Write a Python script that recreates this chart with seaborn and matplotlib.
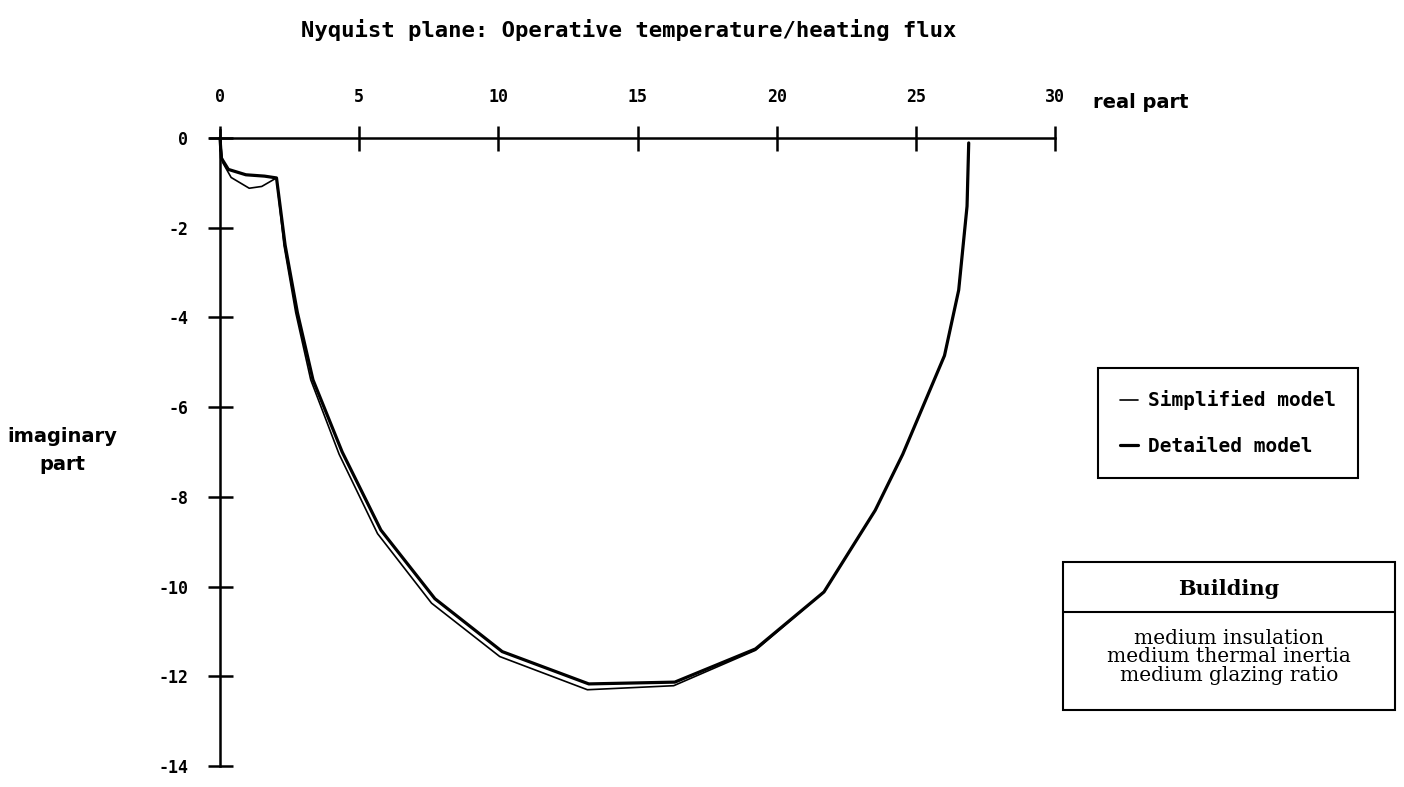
import matplotlib
matplotlib.use("Agg")
import matplotlib.pyplot as plt
from matplotlib.lines import Line2D
from matplotlib.patches import Rectangle
import seaborn as sns
import pandas as pd

# Frequency response of the operative temperature / heating flux transfer
detailed_real = [0.0, 0.05, 0.3, 0.93, 1.6, 2.03, 2.34, 2.78, 3.34, 4.39, 5.78, 7.72,
                 10.14, 13.25, 16.34, 19.24, 21.7, 23.54, 24.53, 25.28, 26.03, 26.54,
                 26.84, 26.9]
detailed_imag = [0.0, -0.45, -0.7, -0.82, -0.85, -0.89, -2.39, -3.89, -5.39, -7.0, -8.74,
                 -10.27, -11.45, -12.17, -12.13, -11.39, -10.12, -8.3, -7.05, -5.95,
                 -4.85, -3.39, -1.52, -0.11]

simplified_real = [0.0, 0.1, 0.4, 1.05, 1.5, 2.03, 2.3, 2.72, 3.26, 4.28, 5.66, 7.6,
                   10.05, 13.2, 16.3, 19.24, 21.7, 23.54, 24.53, 25.28, 26.03, 26.54,
                   26.84, 26.9]
simplified_imag = [0.0, -0.55, -0.88, -1.12, -1.08, -0.89, -2.39, -3.89, -5.39, -7.05,
                   -8.82, -10.37, -11.56, -12.3, -12.21, -11.42, -10.12, -8.3, -7.05,
                   -5.95, -4.85, -3.39, -1.52, -0.11]

x_ticks = [0, 5, 10, 15, 20, 25, 30]
y_ticks = [0, -2, -4, -6, -8, -10, -12, -14]

title_text = "Nyquist plane: Operative temperature/heating flux"
legend_labels = ["Simplified model", "Detailed model"]
box_header = "Building"
box_lines = ["medium insulation", "medium thermal inertia", "medium glazing ratio"]

sns.set_theme(style="white")
plt.rcParams["font.family"] = ["DejaVu Sans Mono", "DejaVu Sans"]
plt.rcParams["text.color"] = "black"

fig = plt.figure(figsize=(14.04, 7.87), dpi=100)
fig.patch.set_facecolor("white")

# axes placed so the origin sits at the upper-left corner of the plotting area
W, H = 1404, 787
x0_px, x30_px = 220, 1055
y0_px, y14_px = 138, 766
px_per_x = (x30_px - x0_px) / 30.0
px_per_y = (y14_px - y0_px) / 14.0
xmin, xmax = -10 / px_per_x, 30.0
ymin, ymax = -14.0, 8 / px_per_y
left = (x0_px + xmin * px_per_x) / W
right = x30_px / W
top = 1 - (y0_px - ymax * px_per_y) / H
bottom = 1 - y14_px / H
ax = fig.add_axes([left, bottom, right - left, top - bottom])
ax.set_facecolor("white")

df_s = pd.DataFrame({"re": simplified_real, "im": simplified_imag})
df_d = pd.DataFrame({"re": detailed_real, "im": detailed_imag})
sns.lineplot(data=df_s, x="re", y="im", sort=False, estimator=None, ax=ax,
             color="black", linewidth=1.2, clip_on=False)
sns.lineplot(data=df_d, x="re", y="im", sort=False, estimator=None, ax=ax,
             color="black", linewidth=2.3, clip_on=False)

ax.set_xlim(xmin, xmax)
ax.set_ylim(ymin, ymax)

for side in ["right", "bottom"]:
    ax.spines[side].set_visible(False)
ax.spines["left"].set_position(("data", 0))
ax.spines["top"].set_position(("data", 0))
for side in ["left", "top"]:
    ax.spines[side].set_linewidth(1.8)
    ax.spines[side].set_color("black")

ax.xaxis.set_ticks_position("top")
ax.yaxis.set_ticks_position("left")
ax.set_xticks(x_ticks)
ax.set_xticklabels([str(v) for v in x_ticks])
ax.set_yticks(y_ticks)
ax.set_yticklabels([str(v) for v in y_ticks])
ax.tick_params(axis="x", which="major", top=True, bottom=False, labeltop=True,
               labelbottom=False, direction="inout", length=18, width=1.8, pad=14,
               labelsize=12, colors="black")
ax.tick_params(axis="y", which="major", left=True, right=False, direction="inout",
               length=18, width=1.8, pad=14, labelsize=12, colors="black")
for lab in ax.get_xticklabels() + ax.get_yticklabels():
    lab.set_fontweight("bold")
ax.set_xlabel("")
ax.set_ylabel("")
ax.grid(False)

fig.text(0.448, 0.962, title_text, ha="center", va="center", color="black",
         fontsize=16, fontweight="bold", family=["DejaVu Sans Mono"])
fig.text(1093 / W, 1 - 102 / H, "real part", ha="left", va="center", color="black",
         fontsize=14, fontweight="semibold", family=["DejaVu Sans"])
fig.text(62 / W, 1 - 451 / H, "imaginary\npart", ha="center", va="center",
         color="black", fontsize=14, fontweight="semibold", family=["DejaVu Sans"],
         linespacing=1.6)

handles = [Line2D([], [], color="black", linewidth=1.2),
           Line2D([], [], color="black", linewidth=2.3)]
leg = fig.legend(handles, legend_labels, loc="upper left",
                 bbox_to_anchor=(1098 / W, 1 - 368 / H), frameon=True,
                 fancybox=False, edgecolor="black", framealpha=1.0,
                 handlelength=0.9, handletextpad=0.5, borderpad=1.15,
                 labelspacing=1.35, borderaxespad=0.0,
                 prop={"family": "DejaVu Sans Mono", "weight": "bold", "size": 14})
leg.get_frame().set_linewidth(1.5)
for t in leg.get_texts():
    t.set_color("black")

# building description box
bx0, bx1 = 1063 / W, 1395 / W
by_top, by_mid, by_bot = 1 - 562 / H, 1 - 612 / H, 1 - 710 / H
fig.patches.append(Rectangle((bx0, by_bot), bx1 - bx0, by_top - by_bot,
                             transform=fig.transFigure, fill=False,
                             edgecolor="black", linewidth=1.5))
fig.add_artist(Line2D([bx0, bx1], [by_mid, by_mid], transform=fig.transFigure,
                      color="black", linewidth=1.5))
fig.text((bx0 + bx1) / 2, 1 - 589 / H, box_header, ha="center", va="center",
         color="black", fontsize=15, fontweight="bold", family=["DejaVu Serif"])
fig.text((bx0 + bx1) / 2, 1 - 657 / H, "\n".join(box_lines), ha="center",
         va="center", color="black", fontsize=14.5, family=["DejaVu Serif"],
         linespacing=0.95)

fig.savefig("out.png", dpi=100, facecolor="white")
